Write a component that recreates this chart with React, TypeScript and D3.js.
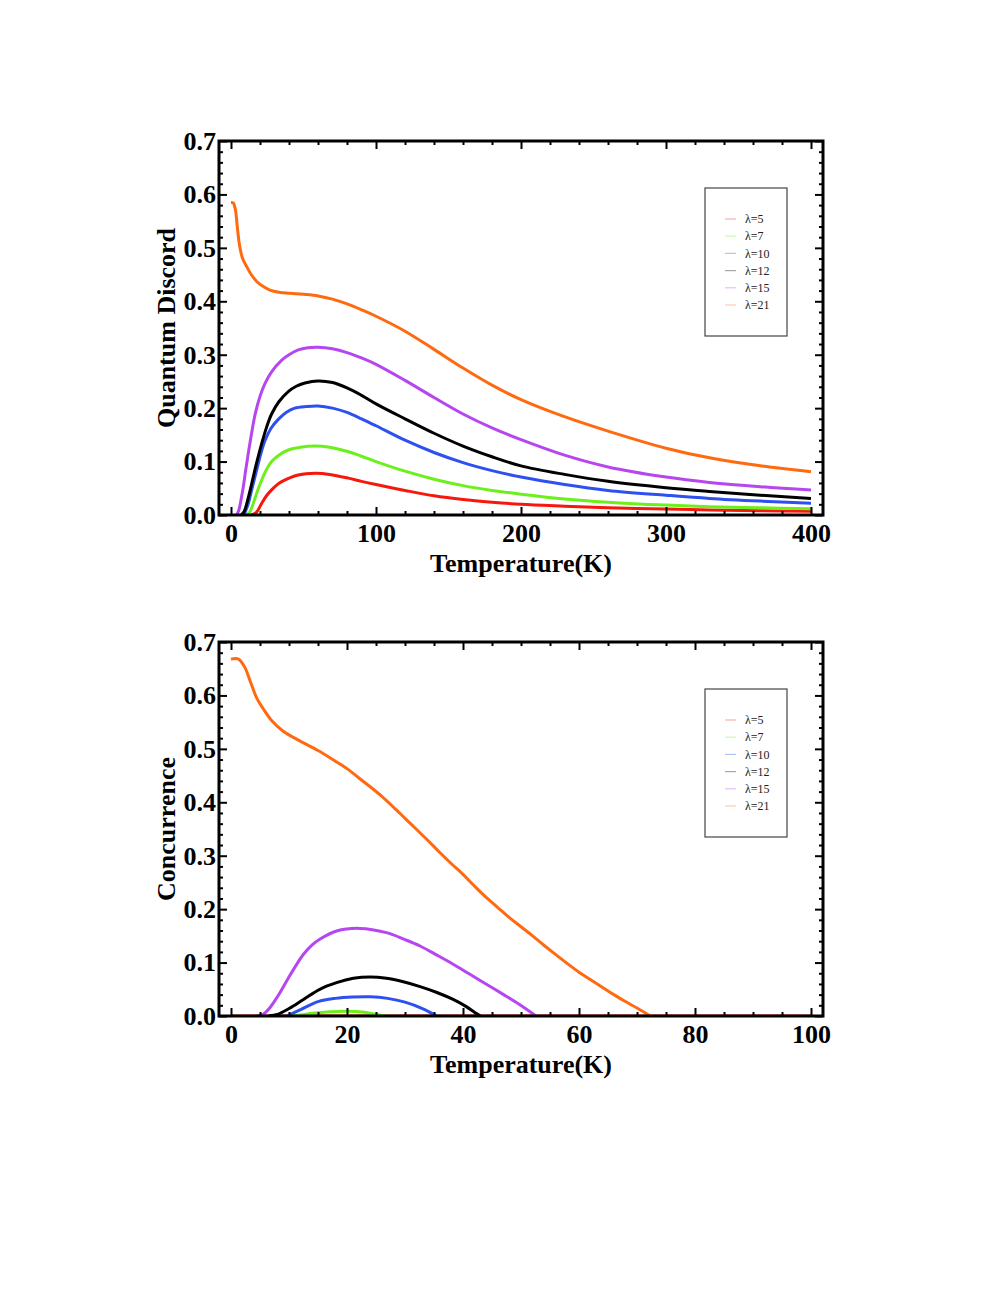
import { useEffect, useRef } from 'react';
import * as d3 from 'd3';

type Pt = [number, number];

const lambdaLabels = ['λ=5', 'λ=7', 'λ=10', 'λ=12', 'λ=15', 'λ=21'];
const lineColours = ['#f5180c', '#6cf01c', '#2d50f0', '#000000', '#b646f0', '#ff6a10'];

// quantum discord vs temperature (K); each curve starts where it leaves the axis
const discordL5: Pt[] = [[14, 0], [17.5, 0.005], [21.2, 0.022], [24.5, 0.036], [28, 0.047], [31.5, 0.056], [35, 0.0624], [40, 0.069], [46.4, 0.075], [58, 0.078], [68, 0.076], [81, 0.069], [90, 0.063], [100, 0.057], [120, 0.046], [140, 0.036], [160, 0.029], [180, 0.024], [200, 0.02], [230, 0.0165], [260, 0.0135], [300, 0.011], [330, 0.0095], [365, 0.008], [400, 0.007]];
const discordL7: Pt[] = [[11, 0], [13, 0.006], [15.4, 0.022], [18, 0.043], [21.2, 0.0655], [24.5, 0.085], [28, 0.1], [33, 0.112], [39.5, 0.1217], [48, 0.127], [58, 0.129], [68, 0.127], [81, 0.1185], [90, 0.11], [100, 0.1], [120, 0.082], [140, 0.067], [160, 0.055], [180, 0.046], [200, 0.039], [230, 0.03], [260, 0.024], [300, 0.0185], [330, 0.0155], [365, 0.0135], [400, 0.0118]];
const discordL10: Pt[] = [[9, 0], [12, 0.022], [14.5, 0.05], [17.7, 0.084], [20.5, 0.114], [23.4, 0.139], [27.5, 0.162], [32.6, 0.179], [38, 0.192], [44, 0.2], [52, 0.203], [60, 0.204], [70, 0.2], [80, 0.192], [90, 0.18], [100, 0.167], [120, 0.14], [140, 0.117], [160, 0.098], [180, 0.083], [200, 0.071], [230, 0.057], [260, 0.046], [300, 0.037], [330, 0.031], [365, 0.026], [400, 0.022]];
const discordL12: Pt[] = [[7, 0], [9, 0.006], [11.5, 0.028], [14.3, 0.059], [17.7, 0.098], [21.2, 0.134], [24.5, 0.164], [28, 0.189], [33, 0.212], [39.5, 0.231], [45, 0.241], [51, 0.247], [60, 0.251], [70, 0.248], [80, 0.238], [90, 0.224], [100, 0.208], [120, 0.18], [140, 0.153], [160, 0.129], [180, 0.109], [200, 0.092], [230, 0.076], [260, 0.063], [300, 0.051], [330, 0.044], [365, 0.037], [400, 0.031]];
const discordL15: Pt[] = [[4, 0], [5.5, 0.01], [7, 0.03], [8.5, 0.053], [10.2, 0.085], [11.9, 0.115], [14.2, 0.153], [16.6, 0.188], [20, 0.222], [23.4, 0.246], [28, 0.268], [35, 0.29], [40, 0.3], [46.4, 0.309], [53, 0.313], [60, 0.314], [70, 0.311], [80, 0.304], [90, 0.294], [100, 0.282], [120, 0.252], [140, 0.22], [160, 0.189], [180, 0.163], [200, 0.141], [230, 0.112], [260, 0.09], [300, 0.071], [330, 0.061], [365, 0.053], [400, 0.047]];
const discordL21: Pt[] = [[0, 0.585], [1.5, 0.584], [3, 0.572], [4.5, 0.535], [6, 0.503], [8, 0.48], [10.8, 0.465], [13.5, 0.452], [17.7, 0.437], [22, 0.428], [26.9, 0.421], [33, 0.417], [40.7, 0.415], [50, 0.413], [60, 0.41], [70, 0.404], [80, 0.395], [90, 0.384], [100, 0.372], [120, 0.344], [140, 0.31], [160, 0.275], [180, 0.243], [200, 0.216], [230, 0.184], [260, 0.157], [300, 0.125], [330, 0.107], [365, 0.092], [400, 0.081]];

// concurrence vs temperature (K)
const concL5: Pt[] = [[0, 0], [100, 0]];
const concL7: Pt[] = [[10, 0], [12, 0.002], [14, 0.005], [17, 0.008], [20, 0.009], [23, 0.007], [25, 0.003], [27, 0]];
const concL10: Pt[] = [[9.6, 0], [12, 0.012], [15, 0.027], [18, 0.033], [21, 0.0355], [24, 0.036], [27, 0.033], [30, 0.026], [33, 0.014], [35.5, 0]];
const concL12: Pt[] = [[6.5, 0], [8, 0.003], [10, 0.014], [12.5, 0.031], [15.3, 0.05], [18.2, 0.0624], [21.1, 0.0705], [24, 0.073], [26.8, 0.0705], [29.7, 0.064], [32.6, 0.055], [35.5, 0.044], [38.3, 0.031], [40.5, 0.018], [42.4, 0.004], [43, 0]];
const concL15: Pt[] = [[4.5, 0], [5.5, 0.003], [6.7, 0.0156], [8, 0.036], [9.6, 0.0655], [11, 0.091], [12.5, 0.1155], [14, 0.133], [15.3, 0.1435], [18.2, 0.159], [22.2, 0.164], [26.8, 0.156], [30, 0.143], [32.6, 0.131], [35.5, 0.114], [38.3, 0.097], [41.2, 0.078], [44.1, 0.059], [47, 0.04], [49.8, 0.021], [52.6, 0]];
const concL21: Pt[] = [[0, 0.668], [1.3, 0.668], [2.4, 0.652], [3.3, 0.627], [4.4, 0.596], [5.5, 0.576], [7, 0.553], [9, 0.533], [12, 0.514], [15, 0.497], [18, 0.477], [20, 0.463], [22, 0.446], [24, 0.429], [26, 0.411], [28, 0.391], [30, 0.37], [32, 0.349], [34, 0.328], [36, 0.306], [38, 0.285], [40, 0.265], [42, 0.243], [44, 0.222], [46, 0.203], [48, 0.184], [50, 0.167], [52, 0.15], [54, 0.132], [56, 0.115], [58, 0.098], [60, 0.082], [62, 0.068], [64, 0.054], [66, 0.04], [68, 0.027], [70, 0.015], [72.3, 0]];

const discordXTicks = [0, 100, 200, 300, 400];
const concXTicks = [0, 20, 40, 60, 80, 100];
const yTicks = [0, 0.1, 0.2, 0.3, 0.4, 0.5, 0.6, 0.7];

const serif = '"Liberation Serif", "Times New Roman", serif';

type PanelOpts = {
  top: number
  xMax: number
  xMajor: number[]
  xMinorStep: number
  yLabel: string
  series: Pt[][]
};

const drawPanel = (svg: any, opts: PanelOpts, id: string) => {
  const frameLeft = 219;
  const frameRight = 823;
  const frameTop = opts.top;
  const frameBottom = opts.top + 374;

  const xScale = d3.scaleLinear().domain([0, opts.xMax]).range([231, 811]);
  const yScale = d3.scaleLinear().domain([0, 0.7]).range([frameBottom, frameTop]);

  const xMinor = d3.range(0, opts.xMax + 0.001, opts.xMinorStep).filter((v) => !opts.xMajor.includes(v));
  const yMinor = d3.range(0, 0.7001, 0.02).filter((v) => Math.abs(Math.round(v * 10) - v * 10) > 0.01);

  svg.append('clipPath').attr('id', id)
    .append('rect')
    .attr('x', frameLeft).attr('y', frameTop)
    .attr('width', frameRight - frameLeft).attr('height', frameBottom - frameTop);

  const lineGen = d3.line<Pt>()
    .curve(d3.curveCatmullRom.alpha(0.5))
    .x((d) => xScale(d[0]))
    .y((d) => yScale(d[1]));

  const curves = svg.append('g').attr('clip-path', `url(#${id})`);
  opts.series.forEach((s, i) => {
    curves.append('path')
      .attr('d', lineGen(s))
      .attr('fill', 'none')
      .attr('stroke', lineColours[i])
      .attr('stroke-width', 3)
      .attr('stroke-linejoin', 'round');
  });

  const styleAxis = (g: any) => {
    g.select('.domain').remove();
    g.selectAll('.tick line').attr('stroke', '#000').attr('stroke-width', 2);
    g.selectAll('text')
      .style('font-family', serif)
      .style('font-size', '26px')
      .style('font-weight', 'bold')
      .attr('fill', '#000');
  };

  // major ticks with labels
  svg.append('g')
    .attr('transform', `translate(0,${frameBottom})`)
    .call(d3.axisBottom(xScale).tickValues(opts.xMajor).tickSize(-8).tickPadding(9).tickFormat(d3.format('d')))
    .call(styleAxis);
  svg.append('g')
    .attr('transform', `translate(${frameLeft},0)`)
    .call(d3.axisLeft(yScale).tickValues(yTicks).tickSize(-8).tickPadding(3).tickFormat(d3.format('.1f')))
    .call(styleAxis);
  svg.append('g')
    .attr('transform', `translate(0,${frameTop})`)
    .call(d3.axisTop(xScale).tickValues(opts.xMajor).tickSize(-8).tickFormat(() => ''))
    .call(styleAxis);
  svg.append('g')
    .attr('transform', `translate(${frameRight},0)`)
    .call(d3.axisRight(yScale).tickValues(yTicks).tickSize(-8).tickFormat(() => ''))
    .call(styleAxis);

  // minor ticks
  svg.append('g')
    .attr('transform', `translate(0,${frameBottom})`)
    .call(d3.axisBottom(xScale).tickValues(xMinor).tickSize(-4).tickFormat(() => ''))
    .call(styleAxis);
  svg.append('g')
    .attr('transform', `translate(0,${frameTop})`)
    .call(d3.axisTop(xScale).tickValues(xMinor).tickSize(-4).tickFormat(() => ''))
    .call(styleAxis);
  svg.append('g')
    .attr('transform', `translate(${frameLeft},0)`)
    .call(d3.axisLeft(yScale).tickValues(yMinor).tickSize(-4).tickFormat(() => ''))
    .call(styleAxis);
  svg.append('g')
    .attr('transform', `translate(${frameRight},0)`)
    .call(d3.axisRight(yScale).tickValues(yMinor).tickSize(-4).tickFormat(() => ''))
    .call(styleAxis);

  svg.append('rect')
    .attr('x', frameLeft).attr('y', frameTop)
    .attr('width', frameRight - frameLeft).attr('height', frameBottom - frameTop)
    .attr('fill', 'none')
    .attr('stroke', '#000')
    .attr('stroke-width', 3);

  // axis titles
  svg.append('text')
    .attr('x', (frameLeft + frameRight) / 2)
    .attr('y', frameBottom + 57)
    .attr('text-anchor', 'middle')
    .style('font-family', serif)
    .style('font-size', '26px')
    .style('font-weight', 'bold')
    .text('Temperature(K)');

  svg.append('text')
    .attr('transform', `translate(175,${(frameTop + frameBottom) / 2}) rotate(-90)`)
    .attr('text-anchor', 'middle')
    .style('font-family', serif)
    .style('font-size', '26px')
    .style('font-weight', 'bold')
    .text(opts.yLabel);

  // legend
  const legend = svg.append('g');
  legend.append('rect')
    .attr('x', 705).attr('y', frameTop + 47)
    .attr('width', 82).attr('height', 148)
    .attr('fill', '#fff')
    .attr('stroke', '#444')
    .attr('stroke-width', 1.2);

  lambdaLabels.forEach((label, i) => {
    const ly = frameTop + 78 + 17.2 * i;
    legend.append('line')
      .attr('x1', 725).attr('x2', 736)
      .attr('y1', ly).attr('y2', ly)
      .attr('stroke', lineColours[i])
      .attr('stroke-opacity', 0.35)
      .attr('stroke-width', 1.2);
    legend.append('text')
      .attr('x', 745)
      .attr('y', ly)
      .attr('dy', '0.35em')
      .style('font-family', serif)
      .style('font-size', '12px')
      .attr('fill', '#222')
      .text(label);
  });
};

const App = () => {
  const svgRef = useRef(null);

  useEffect(() => {
    const svg = d3.select(svgRef.current);
    svg.selectAll('*').remove();

    drawPanel(svg, {
      top: 141,
      xMax: 400,
      xMajor: discordXTicks,
      xMinorStep: 20,
      yLabel: 'Quantum Discord',
      series: [discordL5, discordL7, discordL10, discordL12, discordL15, discordL21],
    }, 'clip-discord');

    drawPanel(svg, {
      top: 642,
      xMax: 100,
      xMajor: concXTicks,
      xMinorStep: 5,
      yLabel: 'Concurrence',
      series: [concL5, concL7, concL10, concL12, concL15, concL21],
    }, 'clip-conc');
  }, []);

  return (
    <svg
      ref={svgRef}
      width={997}
      height={1290}
      style={{ position: 'absolute', left: 0, top: 0, background: '#fff' }}
    />
  );
};

export default App;
